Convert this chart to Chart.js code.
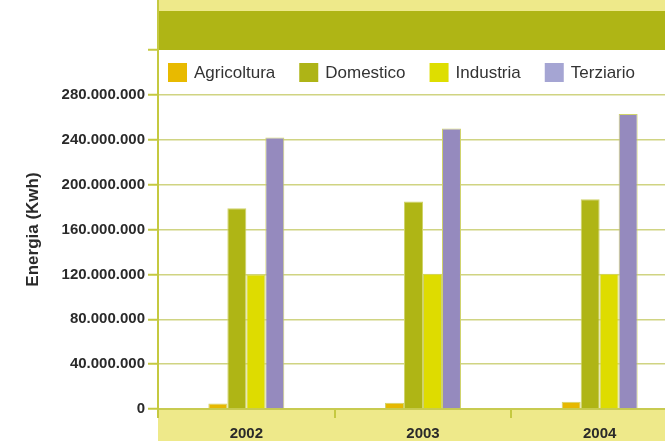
<!DOCTYPE html>
<html>
<head>
<meta charset="utf-8">
<script src="https://cdn.jsdelivr.net/npm/chart.js@4"></script>
<style>
  html, body { margin: 0; padding: 0; background: #fff; overflow: hidden; }
  #wrap { width: 665px; height: 441px; overflow: hidden; }
</style>
</head>
<body>
<div id="wrap"><canvas id="consumi" width="690" height="441"></canvas></div>
<script>
// consumi di energia elettrica per settore (kWh)
const anni = ['2002', '2003', '2004'];
const agricoltura = [5000000, 5500000, 6500000];
const domestico = [179000000, 185000000, 187000000];
const industria = [120000000, 120500000, 120500000];
const terziario = [242000000, 250000000, 263000000];
const tickMax = 320000000;
const tickStep = 40000000;

const FONT = "'Liberation Sans', Arial, sans-serif";
const OLIVA = '#AFB515';
const GIALLINO = '#EEE98A';
const LINEA = '#C5C940';

function puntini(v) {
    return String(v).replace(/\B(?=(\d{3})+(?!\d))/g, '.');
}

// fasce colorate sopra e sotto l'area del grafico
const fasce = {
    id: 'fasce',
    beforeDraw(chart) {
        const { ctx, chartArea: a } = chart;
        const w = chart.width - a.left;
        ctx.save();
        ctx.fillStyle = GIALLINO;
        ctx.fillRect(a.left, 0, w, 11);
        ctx.fillStyle = OLIVA;
        ctx.fillRect(a.left, 11, w, a.top - 11);
        ctx.fillStyle = GIALLINO;
        ctx.fillRect(a.left, a.bottom, w, chart.height - a.bottom);
        ctx.strokeStyle = LINEA;
        ctx.lineWidth = 2;
        ctx.beginPath();
        ctx.moveTo(a.left, 0);
        ctx.lineTo(a.left, a.top);
        ctx.stroke();
        ctx.restore();
    }
};

// legenda in riga dentro l'area del grafico, sotto la fascia verde
const legenda = {
    id: 'legenda',
    afterDatasetsDraw(chart) {
        const { ctx, chartArea: a } = chart;
        const box = 19;
        let x = a.left + 10;
        const y = a.top + 13;
        ctx.save();
        ctx.font = '17px ' + FONT;
        ctx.textBaseline = 'middle';
        chart.data.datasets.forEach(ds => {
            ctx.fillStyle = ds.legendColor || ds.backgroundColor;
            ctx.fillRect(x, y, box, box);
            ctx.fillStyle = '#333';
            ctx.fillText(ds.label, x + box + 7, y + box / 2 + 1);
            x += box + 7 + ctx.measureText(ds.label).width + 24;
        });
        ctx.restore();
    }
};

function serie(label, data, colore, legendColor) {
    return {
        label: label,
        data: data,
        backgroundColor: colore,
        legendColor: legendColor,
        borderColor: '#D0D36A',
        borderWidth: 1,
        barPercentage: 1,
        categoryPercentage: 0.43
    };
}

new Chart(document.getElementById('consumi'), {
    type: 'bar',
    data: {
        labels: anni,
        datasets: [
            serie('Agricoltura', agricoltura, '#E6B800', '#E8BA00'),
            serie('Domestico', domestico, OLIVA, '#AEB416'),
            serie('Industria', industria, '#DEDC00', '#DEDE00'),
            serie('Terziario', terziario, '#958ABE', '#A5A5D3')
        ]
    },
    options: {
        responsive: false,
        animation: false,
        layout: { padding: { top: 50, right: 2, left: 0, bottom: 0 } },
        plugins: {
            tooltip: { enabled: false },
            legend: { display: false }
        },
        scales: {
            x: {
                ticks: { color: '#2a2a2a', padding: 7, font: { family: FONT, size: 15, weight: 'bold' } },
                grid: { drawOnChartArea: false, tickLength: 9, color: LINEA, lineWidth: 2 },
                border: { color: '#C8CB50', width: 2 },
                afterFit(scale) { scale.height = 32; }
            },
            y: {
                min: 0,
                max: tickMax,
                ticks: {
                    stepSize: tickStep,
                    padding: 3,
                    color: '#2a2a2a',
                    font: { family: FONT, size: 15, weight: 'bold' },
                    callback: v => v === tickMax ? '' : puntini(v)
                },
                grid: {
                    color: c => c.tick && c.tick.value === tickMax ? 'rgba(0,0,0,0)' : '#D0D482',
                    lineWidth: 1.5,
                    tickLength: 10,
                    tickColor: LINEA,
                    tickWidth: 2
                },
                border: { color: LINEA, width: 2 },
                title: {
                    display: true,
                    text: 'Energia (Kwh)',
                    color: '#2a2a2a',
                    font: { family: FONT, size: 17, weight: 'bold' },
                    padding: { top: 23, bottom: 0 }
                },
                afterFit(scale) { scale.width = 158; }
            }
        }
    },
    plugins: [fasce, legenda]
});
</script>
</body>
</html>
